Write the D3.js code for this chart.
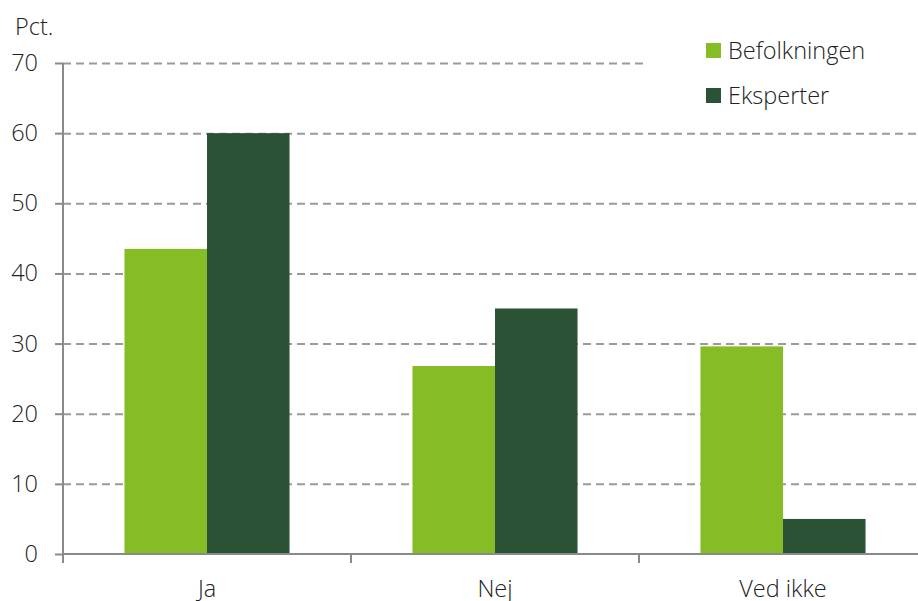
<!DOCTYPE html>
<html>
<head>
	<script src="https://d3js.org/d3.v7.min.js"></script>
	<style>
		html, body { margin: 0; padding: 0; background: #fff; }
		svg { display: block; font-family: "Open Sans", sans-serif; font-weight: 300; }
	</style>
</head>
<body>
	<svg width="918" height="601"></svg>
	<script>
		// chart data
		const categories = ["Ja", "Nej", "Ved ikke"];
		const series = ["Befolkningen", "Eksperter"];
		const befolkningen = [43.5, 26.8, 29.6];
		const eksperter = [60, 35, 5];
		const yTicks = [0, 10, 20, 30, 40, 50, 60, 70];
		const colors = ["#86bc25", "#2b5235"];

		const svg = d3.select("svg");
		const mLeft = 63, mTop = 63, mBottom = 554, bandW = 288;
		const fs = 23.5;

		const x0 = d3.scaleBand()
			.domain(categories)
			.range([mLeft, mLeft + bandW * categories.length]);

		const x1 = d3.scaleBand()
			.domain(series)
			.range([0, x0.bandwidth()])
			.paddingOuter(0.745);

		const y = d3.scaleLinear().domain([0, 70]).range([mBottom, mTop]);

		// dashed grid lines
		svg.append("g")
			.attr("transform", "translate(" + mLeft + ",0)")
			.call(d3.axisLeft(y).tickValues(yTicks.slice(1)).tickSize(-(918 - mLeft)).tickFormat(""))
			.call(g => g.select(".domain").remove())
			.selectAll("line")
			.attr("stroke", "#9a9a9a")
			.attr("stroke-width", 2)
			.attr("stroke-dasharray", "8,5");

		// bars
		const rows = categories.map((c, i) => ({ cat: c, vals: [befolkningen[i], eksperter[i]] }));
		svg.append("g")
			.selectAll("g")
			.data(rows)
			.enter()
			.append("g")
			.attr("transform", d => "translate(" + x0(d.cat) + ",0)")
			.selectAll("rect")
			.data(d => d.vals.map((v, j) => ({ s: series[j], v: v, j: j })))
			.enter()
			.append("rect")
			.attr("x", d => x1(d.s))
			.attr("width", x1.bandwidth())
			.attr("y", d => y(d.v))
			.attr("height", d => mBottom - y(d.v))
			.attr("fill", d => colors[d.j]);

		// y axis
		const yAxis = svg.append("g")
			.attr("transform", "translate(" + mLeft + ",0)")
			.call(d3.axisLeft(y).tickValues(yTicks).tickSize(8).tickPadding(17));
		yAxis.select(".domain").attr("d", "M0," + mTop + "V" + (mBottom + 9)).attr("stroke", "#8a8a8a").attr("stroke-width", 2);
		yAxis.selectAll("line").attr("stroke", "#8a8a8a").attr("stroke-width", 2);
		yAxis.selectAll("text").attr("font-size", fs).attr("fill", "#222").attr("font-family", "Open Sans").attr("font-weight", 300);

		// x axis baseline + ticks at band edges
		svg.append("line")
			.attr("x1", mLeft).attr("x2", 918)
			.attr("y1", mBottom).attr("y2", mBottom)
			.attr("stroke", "#8a8a8a").attr("stroke-width", 2);
		svg.append("g")
			.selectAll("line")
			.data(categories)
			.enter()
			.append("line")
			.attr("x1", d => x0(d)).attr("x2", d => x0(d))
			.attr("y1", mBottom).attr("y2", mBottom + 9)
			.attr("stroke", "#8a8a8a").attr("stroke-width", 2);
		svg.append("g")
			.selectAll("text")
			.data(categories)
			.enter()
			.append("text")
			.attr("x", d => x0(d) + x0.bandwidth() / 2)
			.attr("y", 597)
			.attr("text-anchor", "middle")
			.attr("font-size", fs)
			.attr("fill", "#222")
			.text(d => d);

		// unit label
		svg.append("text")
			.attr("x", 15).attr("y", 35)
			.attr("font-size", fs).attr("fill", "#222")
			.text("Pct.");

		// legend
		svg.append("rect")
			.attr("x", 648).attr("y", 30).attr("width", 270).attr("height", 88)
			.attr("fill", "#fff");
		const leg = svg.append("g")
			.selectAll("g")
			.data(series)
			.enter()
			.append("g")
			.attr("transform", (d, i) => "translate(706," + (43 + i * 45) + ")");
		leg.append("rect")
			.attr("width", 15).attr("height", 15)
			.attr("fill", (d, i) => colors[i]);
		leg.append("text")
			.attr("x", 22).attr("y", 15.5)
			.attr("font-size", fs).attr("fill", "#222")
			.text(d => d);
	</script>
</body>
</html>
